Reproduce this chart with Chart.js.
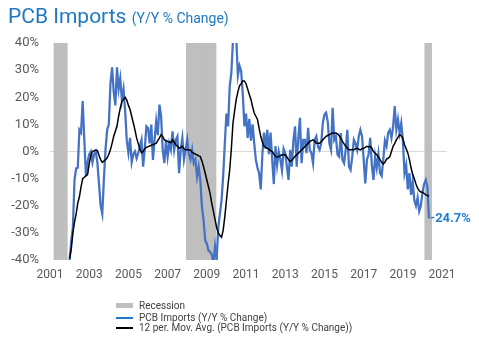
<!DOCTYPE html>
<html>
<head>
<meta charset="utf-8">
<script src="https://cdn.jsdelivr.net/npm/chart.js@4.4.1/dist/chart.umd.min.js"></script>
<style>
  body { margin: 0; background: #fff; }
  #wrap { position: relative; width: 479px; height: 348px; font-family: Roboto, "Liberation Sans", sans-serif; }
  #chart { position: absolute; left: 0; top: 0; }
  #title { position: absolute; left: 8px; top: 4px; color: #1e78c2; font-size: 21px; line-height: 24px; white-space: nowrap; }
  #title span { font-size: 14px; }
  .row { position: absolute; left: 116px; height: 12px; line-height: 12px; font-size: 10px; color: #404040; white-space: nowrap; }
  .mark { position: absolute; left: 0; width: 17px; }
  .label { position: absolute; left: 23px; top: 0; }
</style>
</head>
<body>
<div id="wrap">
  <canvas id="chart" width="479" height="348"></canvas>
  <div id="title">PCB Imports <span>(Y/Y % Change)</span></div>
  <div class="row" style="top:300px"><div class="mark" style="top:3px;height:5px;background:#bfbfbf"></div><div class="label">Recession</div></div>
  <div class="row" style="top:312px"><div class="mark" style="top:5px;height:2px;background:#1f78c8"></div><div class="label">PCB Imports (Y/Y % Change)</div></div>
  <div class="row" style="top:322px"><div class="mark" style="top:5px;height:2px;background:#000"></div><div class="label">12 per. Mov. Avg. (PCB Imports (Y/Y % Change))</div></div>
</div>
<script>
// monthly series, first value = Jan 2002
const startYear = 2002;

const pcbImports = [
  -40, -33, -28, -10.5, -6.2, -6, 8, 7, 18.6, 4.3, -9, -4,          // 2002
  -1, 0, -4, -1, 0, -4, -12, -20, -23, -10, 1, 8,                   // 2003
  10, 25, 31, 22, 17, 31, 23, 27, 19, 23, 15, 4,                    // 2004
  -0.5, 5, -4, -1, 0, -2.5, -0.6, 1.9, 4.3, -5.6, 1, 9.3,           // 2005
  8.7, 3, 9.9, -3.1, 4.3, 11.2, 6, 17.3, 13, 0.6, -4.3, 4.3,        // 2006
  -1.9, 3, 0.6, 7.4, 0.6, 4.3, 5.6, -8, 0.6, 5, -3, 0.6,            // 2007
  4.3, -1, -3, 0.6, -4.3, -3, -9.3, -5.6, -10.5, -20.4, -25.4, -32.8, // 2008
  -34, -36.5, -37, -38, -41, -35, -40, -28, -23, -18, -9, 3,        // 2009
  14, 9.3, 24, 29, 41, 45, 42, 28, 31.6, 29.7, 21, 9.3,             // 2010
  14, 5, 12, 4, 10, 3, -3, -6, -8, -14, -1, 7,                      // 2011
  1, 8, -1, 7, -3, -12, 2, -5, 0, -3, -7, 1,                        // 2012
  -0.6, -5.6, -10.5, 0.6, -5.6, 4.3, 9.3, -5.6, 5, 12.4, -4.3, 4.3, // 2013
  4.3, -0.6, 8.7, 0.6, -0.6, -4.3, 4.3, 5.6, 1.9, 0.6, 3, 10.5,     // 2014
  13.6, 14.3, 11, 3, 0.6, 16.1, 4.3, 5.6, -1.2, -1.9, 6.8, -3,      // 2015
  -4.3, 0.6, 8, -5.6, -6.8, -1.9, 4.3, 3, 0.6, 5.6, 8, 5.6,         // 2016
  -3, -11.8, -3, -1, 5, -5, -10.5, -2, -6, -1, -8, -9,              // 2017
  -3, 4, 2, 7, 8, 5, 9, 16.7, 8, 11.8, 6.8, 10.5,                   // 2018
  4, -8, -5, -14, -8, -16, -11, -18, -20, -17, -22, -20,            // 2019
  -15, -12, -10.5, -13, -24.7                                       // 2020
];

const movingAverage = [
  -39.5, -36, -30, -26, -23, -19, -16.7, -13, -10, -9.5, -9, -8.5,  // 2002
  -4.5, -1.5, 0, 0.3, 0.5, 0.3, -1.5, -3, -4, -3.5, -3, -2.3,       // 2003
  -1, 0.7, 3, 5.6, 7.5, 9.3, 13, 16, 18.5, 19.2, 20, 19,            // 2004
  17, 15.5, 13, 10.5, 8, 5, 3, 1, -0.5, 0, 1, 1.5,                  // 2005
  1.8, 2, 2.3, 2.5, 2.8, 3, 4, 5, 6.2, 5.5, 4.3, 4,                 // 2006
  3.7, 3.5, 3.3, 4.3, 3.5, 2.5, 2, 1.2, 1.5, 1.9, 1, 0.6,           // 2007
  0.6, 0.6, 0.5, -0.3, -0.6, -1, -1.2, -1.6, -1.9, -3.5, -5.6, -8,  // 2008
  -10.5, -13, -15.5, -19, -22, -25, -28, -30, -31, -31.6, -29, -24, // 2009
  -18, -12, -6.8, 1, 10.5, 15, 19.2, 22, 24.2, 25, 26, 26,          // 2010
  25, 23, 21, 19.2, 16.5, 14.2, 13, 11.8, 8.5, 5.6, 3.5, 1.9,       // 2011
  1.5, 1.2, 0.8, 0.3, 0, -1, -1.9, -2, -1.9, -1.5, -1.2, -1.2,      // 2012
  -1.2, -2, -3, -3.7, -3.2, -2.5, -1.8, -1.2, -0.6, 0, 0.6, 1.2,    // 2013
  1.8, 2.5, 3, 3.7, 4, 4.3, 3.8, 3, 3, 3, 3.6, 4.3,                 // 2014
  5, 5.6, 5.9, 6.2, 6.5, 6.8, 6.8, 6.8, 6.5, 5.8, 4.8, 3.7,         // 2015
  2.8, 1.9, 1.2, 0.6, 0.6, 0.6, 0.6, 1, 1.2, 0.8, 0.6, 1,           // 2016
  1.2, 1.5, 1.9, 1.7, 1.9, 1.2, 0, -0.6, -1.2, -2, -3, -4,          // 2017
  -4.6, -4, -2.8, -2.5, -1.9, 0, 1.9, 3, 4.3, 5.2, 6.2, 5.8,        // 2018
  4.8, 2.5, 1, -0.5, -3, -6, -8.5, -10, -12, -13.5, -14.5, -14.9,   // 2019
  -15, -15.5, -16, -16.2, -16.5                                     // 2020
];

const recessionStarts = ['2001-04', '2008-01', '2020-03'];
const recessionEnds = ['2001-11', '2009-06', '2020-06'];
const yearTicks = [2001, 2003, 2005, 2007, 2009, 2011, 2013, 2015, 2017, 2019, 2021];

const toYear = s => { const [y, m] = s.split('-').map(Number); return y + (m - 1) / 12; };

const monthly = arr => arr.map((v, i) => ({ x: startYear + i / 12, y: v }));

// one bar per recession month
const recessionBars = [];
recessionStarts.forEach((s, k) => {
  const a = Math.round(toYear(s) * 12), b = Math.round(toYear(recessionEnds[k]) * 12);
  for (let m = a; m <= b; m++) recessionBars.push({ x: m / 12, y: [-40, 40] });
});

const endLabel = {
  id: 'endLabel',
  afterDatasetsDraw(chart) {
    const meta = chart.getDatasetMeta(1);
    const last = meta.data[meta.data.length - 1];
    const v = pcbImports[pcbImports.length - 1];
    const ctx = chart.ctx;
    ctx.save();
    ctx.font = 'bold 13px Roboto';
    ctx.fillStyle = '#1f7fd1';
    ctx.textAlign = 'left';
    ctx.textBaseline = 'middle';
    ctx.fillText(v.toFixed(1) + '%', last.x + 1, last.y);
    ctx.restore();
  }
};

new Chart(document.getElementById('chart').getContext('2d'), {
  type: 'line',
  data: {
    datasets: [
      {
        type: 'bar',
        label: 'Recession',
        data: recessionBars,
        backgroundColor: '#bfbfbf',
        borderWidth: 0,
        barPercentage: 1.6,
        categoryPercentage: 1,
        order: 3
      },
      {
        label: 'PCB Imports (Y/Y % Change)',
        data: monthly(pcbImports),
        borderColor: '#4472c4',
        borderWidth: 2.25,
        pointRadius: 0,
        tension: 0,
        clip: 0,
        order: 2
      },
      {
        label: '12 per. Mov. Avg. (PCB Imports (Y/Y % Change))',
        data: monthly(movingAverage),
        borderColor: '#000000',
        borderWidth: 1.5,
        pointRadius: 0,
        tension: 0,
        clip: 0,
        order: 1
      }
    ]
  },
  options: {
    responsive: false,
    animation: false,
    layout: { padding: { top: 43, right: 32, bottom: 64, left: 0 } },
    plugins: { legend: { display: false }, tooltip: { enabled: false } },
    scales: {
      x: {
        type: 'linear',
        min: 2001,
        max: 2021.25,
        offset: false,
        afterBuildTicks: s => { s.ticks = yearTicks.map(v => ({ value: v })); },
        afterFit: s => { s.height = 24; },
        ticks: {
          callback: v => String(v),
          autoSkip: false,
          maxRotation: 0,
          padding: 8,
          color: '#595959',
          font: { family: 'Roboto', size: 12 }
        },
        grid: { display: false, drawTicks: false, offset: false },
        border: { display: false }
      },
      y: {
        min: -40,
        max: 40,
        afterFit: s => { s.width = 50; },
        ticks: {
          stepSize: 10,
          callback: v => v + '%',
          padding: 11,
          color: '#595959',
          font: { family: 'Roboto', size: 13 }
        },
        grid: {
          drawTicks: false,
          color: c => (c.tick && c.tick.value === 0 ? '#d9d9d9' : 'rgba(0,0,0,0)'),
          lineWidth: 1
        },
        border: { display: false }
      }
    }
  },
  plugins: [endLabel]
});
</script>
</body>
</html>
